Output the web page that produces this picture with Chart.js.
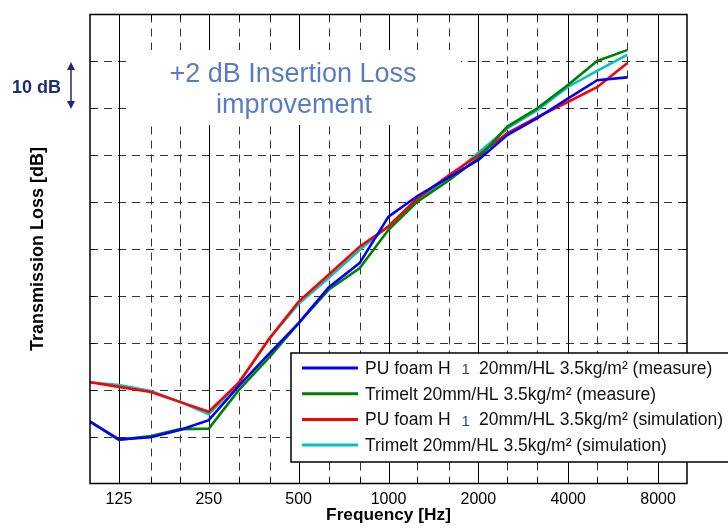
<!DOCTYPE html>
<html>
<head>
<meta charset="utf-8">
<script src="https://cdn.jsdelivr.net/npm/chart.js@4.4.1/dist/chart.umd.min.js"></script>
<style>
  html, body { margin: 0; padding: 0; background: #fff; }
  #wrap { width: 728px; height: 530px; }
</style>
</head>
<body>
<div id="wrap"><canvas id="tlChart" width="728" height="530"></canvas></div>
<script>
// ── Data (third-octave bands, dB) ───────────────────────────
const freqs = [100, 125, 160, 200, 250, 315, 400, 500, 630, 800, 1000,
               1250, 1600, 2000, 2500, 3150, 4000, 5000, 6300];
const octaveTicks = [125, 250, 500, 1000, 2000, 4000, 8000];
const thirdGrid   = [160, 200, 315, 400, 630, 800, 1250, 1600, 2500, 3150, 5000, 6300];
const yGrid       = [10, 20, 30, 40, 50, 60, 70, 80, 90];

const puMeasure      = [13.2, 9.4, 9.85, 11.4, 13.5, 20.8, 27.8, 34.2, 41.8, 47.0, 56.9,
                        61.3, 65.3, 69.0, 74.3, 77.9, 82.1, 86.0, 86.6];
const trimeltMeasure = [13.2, 9.3, 10.1, 11.6, 11.7, 19.9, 27.0, 34.2, 41.3, 45.9, 54.1,
                        60.1, 64.7, 69.4, 76.1, 80.0, 85.0, 90.1, 92.4];
const puSim          = [21.6, 20.6, 19.5, 17.4, 15.3, 21.5, 31.0, 38.8, 44.5, 50.5, 54.8,
                        60.8, 65.8, 70.0, 74.7, 78.1, 81.4, 84.5, 89.6];
const trimeltSim     = [21.6, 21.0, 19.7, 17.4, 14.8, 21.4, 31.0, 38.3, 43.8, 49.8, 54.9,
                        60.7, 65.4, 70.5, 75.7, 79.6, 84.6, 88.0, 91.4];

const seriesLabels = [
  ['PU foam H', '1', '20mm/HL 3.5kg/m² (measure)'],
  ['Trimelt 20mm/HL 3.5kg/m² (measure)'],
  ['PU foam H', '1', '20mm/HL 3.5kg/m² (simulation)'],
  ['Trimelt 20mm/HL 3.5kg/m² (simulation)'],
];
const seriesColors = ['#0000ff', '#008000', '#ff0000', '#00c4c4'];
const seriesData   = [puMeasure, trimeltMeasure, puSim, trimeltSim];

const FONT = "Arial, 'Liberation Sans', Helvetica, sans-serif";

// ── Grid / frame plugin (MATLAB style) ──────────────────────
const gridPlugin = {
  id: 'matlabGrid',
  beforeDatasetsDraw(chart) {
    const { ctx, chartArea: a, scales: { x, y } } = chart;
    ctx.save();
    ctx.lineWidth = 1;
    // horizontal dashed
    ctx.strokeStyle = '#333';
    ctx.setLineDash([8, 6]);
    yGrid.forEach(v => {
      const py = Math.round(y.getPixelForValue(v)) + 0.5;
      ctx.beginPath(); ctx.moveTo(a.left, py); ctx.lineTo(a.right, py); ctx.stroke();
    });
    // vertical dashed (third octaves)
    thirdGrid.forEach(f => {
      const px = Math.round(x.getPixelForValue(f)) + 0.5;
      ctx.beginPath(); ctx.moveTo(px, a.top); ctx.lineTo(px, a.bottom); ctx.stroke();
    });
    // vertical solid (octaves)
    ctx.setLineDash([]);
    ctx.strokeStyle = '#000';
    octaveTicks.forEach(f => {
      const px = Math.round(x.getPixelForValue(f)) + 0.5;
      ctx.beginPath(); ctx.moveTo(px, a.top); ctx.lineTo(px, a.bottom); ctx.stroke();
    });
    // inward tick marks
    yGrid.forEach(v => {
      const py = Math.round(y.getPixelForValue(v)) + 0.5;
      ctx.beginPath();
      ctx.moveTo(a.left, py); ctx.lineTo(a.left + 5, py);
      ctx.moveTo(a.right, py); ctx.lineTo(a.right - 5, py);
      ctx.stroke();
    });
    thirdGrid.forEach(f => {
      const px = Math.round(x.getPixelForValue(f)) + 0.5;
      ctx.beginPath();
      ctx.moveTo(px, a.top); ctx.lineTo(px, a.top + 5);
      ctx.moveTo(px, a.bottom); ctx.lineTo(px, a.bottom - 5);
      ctx.stroke();
    });

    // annotation box (white, hides grid behind the text)
    ctx.fillStyle = '#fff';
    ctx.fillRect(126, 50, 335, 75);
    ctx.fillStyle = '#5b7bc6';
    ctx.font = `27px ${FONT}`;
    ctx.textAlign = 'center';
    ctx.textBaseline = 'alphabetic';
    ctx.fillText('+2 dB Insertion Loss', 293, 82);
    ctx.fillText('improvement', 294, 113);
    ctx.restore();
  },
  afterDatasetsDraw(chart) {
    const { ctx, chartArea: a } = chart;
    ctx.save();
    // frame
    ctx.strokeStyle = '#000';
    ctx.lineWidth = 1.5;
    ctx.strokeRect(a.left, a.top, a.right - a.left, a.bottom - a.top);

    // legend box
    const lx = 291, ly = 353, lh = 109;
    ctx.fillStyle = '#fff';
    ctx.fillRect(lx, ly, 460, lh);
    ctx.lineWidth = 1.5;
    ctx.strokeRect(lx, ly, 460, lh);
    const legFont = `17.5px ${FONT}`;
    ctx.font = legFont;
    ctx.textBaseline = 'middle';
    ctx.textAlign = 'left';
    seriesLabels.forEach((parts, i) => {
      const yy = 368 + i * 25.7;
      ctx.strokeStyle = seriesColors[i];
      ctx.lineWidth = 3;
      ctx.beginPath(); ctx.moveTo(302, yy); ctx.lineTo(358, yy); ctx.stroke();
      let tx = 365;
      ctx.fillStyle = '#111';
      ctx.fillText(parts[0], tx, yy + 1);
      if (parts.length > 1) {
        tx += ctx.measureText(parts[0]).width + 11;
        ctx.fillStyle = '#2a3f8f';
        ctx.font = `15px ${FONT}`;
        ctx.fillText(parts[1], tx, yy + 2);
        tx += ctx.measureText(parts[1]).width + 9;
        ctx.font = legFont;
        ctx.fillStyle = '#111';
        ctx.fillText(parts[2], tx, yy + 1);
      }
    });

    // "10 dB" scale marker
    ctx.fillStyle = '#1f2d6b';
    ctx.strokeStyle = '#1f2d6b';
    ctx.font = `bold 18px ${FONT}`;
    ctx.textAlign = 'left';
    ctx.textBaseline = 'alphabetic';
    ctx.fillText('10 dB', 12, 93);
    ctx.lineWidth = 1.5;
    ctx.beginPath(); ctx.moveTo(71, 68); ctx.lineTo(71, 103); ctx.stroke();
    ctx.beginPath(); ctx.moveTo(71, 62); ctx.lineTo(67, 70); ctx.lineTo(75, 70); ctx.closePath(); ctx.fill();
    ctx.beginPath(); ctx.moveTo(71, 109); ctx.lineTo(67, 101); ctx.lineTo(75, 101); ctx.closePath(); ctx.fill();
    ctx.restore();
  }
};

// ── Chart ───────────────────────────────────────────────────
const datasets = seriesData.map((vals, i) => ({
  label: seriesLabels[i].join(' '),
  data: freqs.map((f, j) => ({ x: f, y: vals[j] })),
  borderColor: seriesColors[i],
  backgroundColor: seriesColors[i],
  borderWidth: 2.6,
  pointRadius: 0,
  tension: 0,
  fill: false,
}));

new Chart(document.getElementById('tlChart').getContext('2d'), {
  type: 'line',
  data: { datasets },
  options: {
    responsive: false,
    animation: false,
    devicePixelRatio: 1,
    layout: { padding: { top: 14.5, right: 41, left: 0, bottom: 0 } },
    plugins: { legend: { display: false }, tooltip: { enabled: false } },
    scales: {
      x: {
        type: 'logarithmic',
        min: 100,
        max: 10000,
        afterBuildTicks: s => { s.ticks = octaveTicks.map(v => ({ value: v })); },
        afterFit: s => { s.height = 46.5; },
        ticks: {
          autoSkip: false,
          maxRotation: 0,
          padding: 6,
          color: '#000',
          font: { family: FONT, size: 16 },
          callback: v => String(v),
        },
        grid: { display: false, drawTicks: false },
        border: { display: false },
        title: {
          display: true,
          text: 'Frequency [Hz]',
          color: '#000',
          font: { family: FONT, size: 17.3, weight: 'bold' },
          padding: { top: 0, bottom: 4 },
        },
      },
      y: {
        min: 0,
        max: 100,
        ticks: { display: false, stepSize: 10 },
        afterFit: s => { s.width = 90; },
        grid: { display: false, drawTicks: false },
        border: { display: false },
        title: {
          display: true,
          text: 'Transmission Loss [dB]',
          color: '#000',
          font: { family: FONT, size: 18, weight: 'bold' },
          padding: { top: 27, bottom: 0 },
        },
      },
    },
  },
  plugins: [gridPlugin],
});
</script>
</body>
</html>
